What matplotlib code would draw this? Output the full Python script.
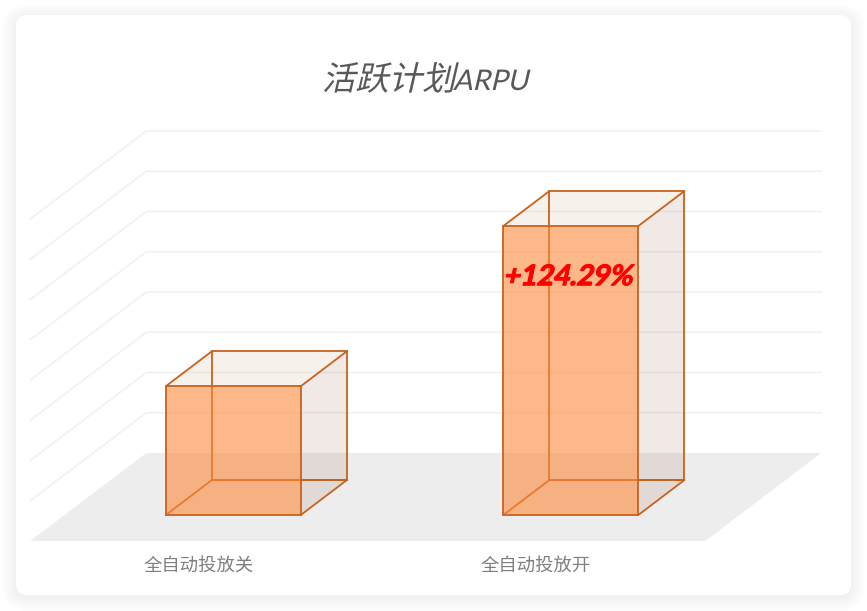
import matplotlib
matplotlib.use("Agg")
from matplotlib import pyplot as plt
from matplotlib.patches import Polygon, FancyBboxPatch
from matplotlib.patheffects import AbstractPathEffect
from matplotlib.transforms import Affine2D

categories = ["全自动投放关", "全自动投放开"]
arpu = [3.2, 7.18]
grid_levels = [0, 1, 2, 3, 4, 5, 6, 7, 8]
title_cn = "活跃计划"
title_en = "ARPU"
lift_label = "+124.29%"

W, H = 867, 611
plt.rcParams["font.family"] = ["Lato", "Noto Sans CJK SC", "DejaVu Sans"]


# CJK fonts have no italic, so lean the glyphs over while they are drawn
class Lean(AbstractPathEffect):
    def __init__(self, deg=13, stroke=0):
        super().__init__()
        self.deg = deg
        self.stroke = stroke

    def draw_path(self, renderer, gc, tpath, affine, rgbFace=None):
        gc0 = renderer.new_gc()
        gc0.copy_properties(gc)
        gc0.set_linewidth(self.stroke)
        if self.stroke:
            gc0.set_foreground(rgbFace)
        renderer.draw_path(gc0, tpath, Affine2D().skew_deg(self.deg, 0) + affine, rgbFace)
        gc0.restore()


fig = plt.figure(figsize=(W / 100, H / 100), dpi=100, facecolor="white")

# card with soft shadow, in pixels
bg = fig.add_axes([0, 0, 1, 1])
bg.set_xlim(0, W)
bg.set_ylim(H, 0)
bg.axis("off")
for grow in range(14, 0, -1):
    bg.add_patch(FancyBboxPatch((16 - grow, 16 - grow + 2), 835 + 2 * grow, 579 + 2 * grow,
                                boxstyle="round,pad=0,rounding_size=%d" % (11 + grow),
                                fc="black", ec="none", alpha=0.004))
bg.add_patch(FancyBboxPatch((16, 15), 835, 580, boxstyle="round,pad=0,rounding_size=11",
                            fc="white", ec="none"))

# front plane of the plot: categories along x, grid units along y
ax = fig.add_axes([30.3 / W, 1 - 541 / H, 675 / W, 322 / H])
ax.set_xlim(-0.5, 1.5)
ax.set_ylim(0, 8)
ax.axis("off")
ax.patch.set_alpha(0)

DX = 116 / 337.5   # sideways shift of the full floor depth, x units
DY = 88 / 40.25    # upward shift of the full floor depth, y units
BAR_W = 0.4
D0, D1 = 0.295, 0.693
EDGE = "#C8621E"


def pt(x, d, v):
    return (x + DX * d, v + DY * d)


def face(corners, **kw):
    ax.add_patch(Polygon([pt(*c) for c in corners], closed=True, clip_on=False, **kw))


def edge(a, b, z=5):
    pa, pb = pt(*a), pt(*b)
    ax.plot([pa[0], pb[0]], [pa[1], pb[1]], color=EDGE, lw=1.3, clip_on=False,
            solid_capstyle="round", zorder=z)


# grid and floor
for v in grid_levels[1:]:
    p = [pt(-0.5, 0, v), pt(-0.5, 1, v), pt(1.5, 1, v)]
    ax.plot([q[0] for q in p], [q[1] for q in p], color="#F1F1F1", lw=1.2, clip_on=False, zorder=1)
face([(-0.5, 0, 0), (-0.5, 1, 0), (1.5, 1, 0), (1.5, 0, 0)], fc="#EDEDED", ec="none", zorder=2)

for i, v in enumerate(arpu):
    l, r = i - BAR_W / 2, i + BAR_W / 2
    # top and right side, nearly clear
    face([(l, D0, v), (l, D1, v), (r, D1, v), (r, D0, v)], fc="#AF7D41", alpha=0.1, ec="none", zorder=3)
    face([(r, D0, 0), (r, D1, 0), (r, D1, v), (r, D0, v)], fc="#8C5A3C", alpha=0.13, ec="none", zorder=3)
    # edges seen through the front face
    edge((l, D0, 0), (l, D1, 0), 4)
    edge((l, D1, 0), (r, D1, 0), 4)
    edge((l, D1, 0), (l, D1, v), 4)
    face([(l, D0, 0), (l, D0, v), (r, D0, v), (r, D0, 0)], fc="#FC8A3A", alpha=0.6, ec="none", zorder=5)
    # outer edges
    edge((l, D0, 0), (r, D0, 0), 6)
    edge((r, D0, 0), (r, D0, v), 6)
    edge((r, D0, v), (l, D0, v), 6)
    edge((l, D0, v), (l, D0, 0), 6)
    edge((l, D0, v), (l, D1, v), 6)
    edge((l, D1, v), (r, D1, v), 6)
    edge((r, D1, v), (r, D0, v), 6)
    edge((r, D0, 0), (r, D1, 0), 6)
    edge((r, D1, 0), (r, D1, v), 6)
    edge((r, D1, 0), (l, D1, 0), 4)

    bg.text(i * 337.5 + 198.5, 566, categories[i], ha="center", va="center", fontsize=13.2,
            color="#7F7F7F", family=["Noto Sans CJK SC", "DejaVu Sans"])

tx, ty = pt(1, D0, arpu[1] - 1.47)
ax.text(tx - 0.009, ty, lift_label, ha="center", va="baseline", fontsize=20.5, fontweight="bold",
        color="#FF0000", zorder=8, clip_on=False, path_effects=[Lean(12, 0.8)])

bg.text(322, 90, title_cn, ha="left", va="baseline", fontsize=24, color="#595959",
        family=["Noto Sans CJK SC", "DejaVu Sans"], path_effects=[Lean(13)])
bg.text(453, 90, title_en, ha="left", va="baseline", fontsize=20.5, color="#595959",
        path_effects=[Lean(13)])

fig.savefig("out.png", dpi=100)
